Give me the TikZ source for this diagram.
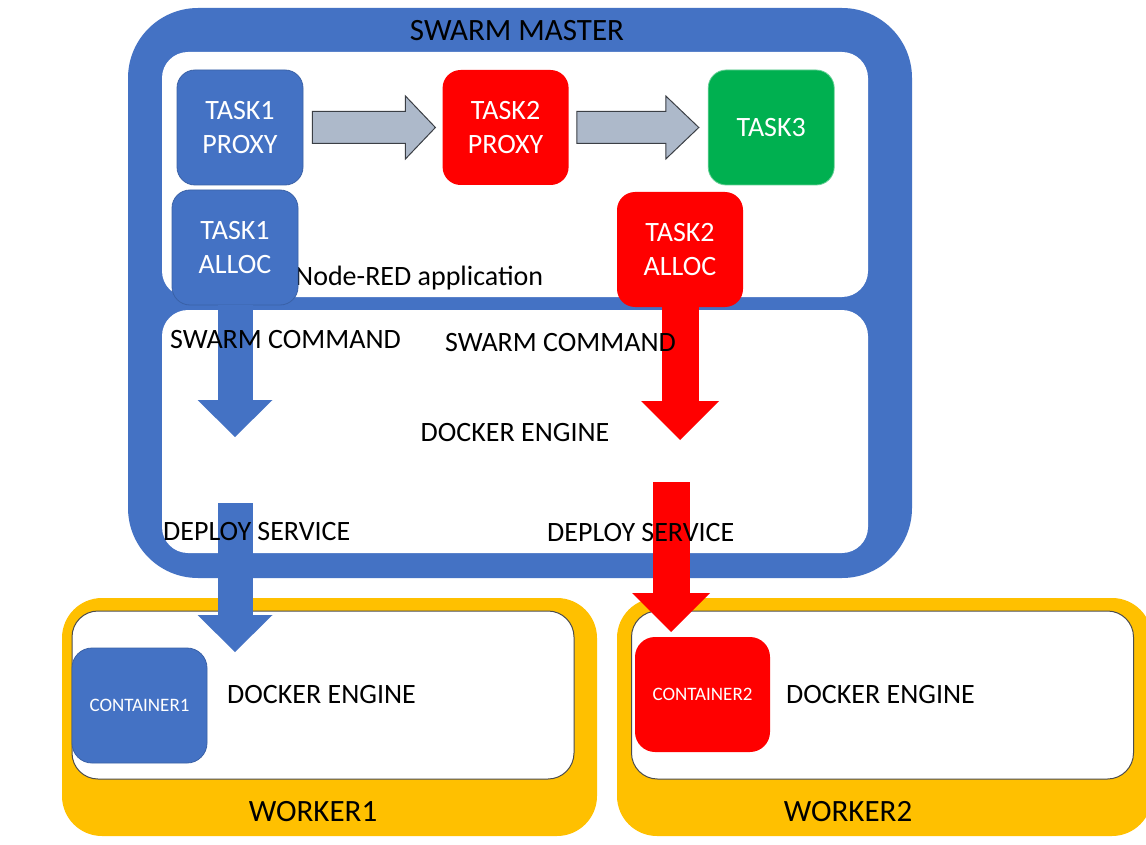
\documentclass[tikz,border=0pt]{standalone}
\usepackage{fontspec}
\setmainfont{Carlito}
\usetikzlibrary{arrows.meta, positioning}
\definecolor{swarmblue}{HTML}{4472C4}
\definecolor{taskred}{HTML}{FF0000}
\definecolor{taskgreen}{HTML}{00B050}
\definecolor{workeryellow}{HTML}{FFC000}
\definecolor{flowgray}{HTML}{ADB9CA}
\definecolor{flowedge}{HTML}{3B3F45}
\tikzset{
  masterbox/.style={rectangle,fill=swarmblue,rounded corners=70pt,minimum width=784pt,minimum height=570pt},
  appbox/.style={rectangle,fill=white,rounded corners=26pt,minimum width=706pt},
  workerbox/.style={rectangle,fill=workeryellow,rounded corners=40pt,minimum width=535pt,minimum height=238pt},
  enginebox/.style={rectangle,fill=white,draw=black!70,line width=1pt,rounded corners=26pt,minimum width=502pt,minimum height=168pt},
  task/.style={rectangle,rounded corners=18pt,minimum width=126pt,minimum height=115pt,align=center,text=white,inner sep=0pt,font=\fontsize{28}{34}\selectfont},
  bluetask/.style={task,fill=swarmblue,draw=swarmblue!85!black,line width=0.8pt},
  redtask/.style={task,fill=taskred},
  greentask/.style={task,fill=taskgreen,draw=taskgreen!60!white,line width=0.8pt},
  container/.style={task,rounded corners=20pt,minimum width=135pt,font=\fontsize{19}{22}\selectfont},
  txt/.style={inner sep=0pt,font=\fontsize{28}{34}\selectfont},
  title/.style={inner sep=0pt,font=\fontsize{31}{36}\selectfont},
  flowarrow/.style={fill=flowgray,draw=flowedge,line width=1pt,line join=miter},
  bluepush/.style={draw=swarmblue,line width=35pt,-{Triangle[width=75pt,length=37pt,line width=0pt]}},
  redpush/.style={draw=taskred,line width=37pt,-{Triangle[width=78pt,length=39pt,line width=0pt]}}
}

\begin{document}
\begin{tikzpicture}[x=1pt,y=-1pt,node distance=139pt]
\useasboundingbox[fill=white] (0,0) rectangle (1146,845);

% swarm master
\node[masterbox] (master) at (520,293) {};
\node[title] (mastertitle) at (517,31) {SWARM MASTER};
\node[appbox,minimum height=245pt] (app) at (515,174.5) {};
\node[appbox,minimum height=243pt] (engine) at (515,431.5) {};
\node[txt,anchor=west] (applabel) at (295,278) {Node-RED application};

% workers
\node[workerbox] (w1) at (329.5,717) {};
\node[workerbox] (w2) at (884.5,717) {};
\node[enginebox] (e1) at (323,695) {};
\node[enginebox] (e2) at (882.5,695) {};
\node[title] (w1title) at (313,812) {WORKER1};
\node[title] (w2title) at (848,812) {WORKER2};

% tasks
\node[bluetask] (t1p) at (240,127.5) {TASK1\\PROXY};
\node[redtask, right=of t1p] (t2p) {TASK2\\PROXY};
\node[greentask, right=of t2p] (t3p) {TASK3};
\node[bluetask] (t1a) at (235,247.5) {TASK1\\ALLOC};
\node[redtask] (t2a) at (680,249.5) {TASK2\\ALLOC};

\draw[flowarrow] ([xshift=9pt]t1p.east) -- ++(0,16) -- ++(93,0) -- ++(0,15.5)
  -- ([xshift=-7pt]t2p.west) -- ++(-30,-31.5) -- ++(0,15.5) -- ++(-93,0) -- cycle;
\draw[flowarrow] ([xshift=8pt]t2p.east) -- ++(0,16) -- ++(89,0) -- ++(0,15.5)
  -- ([xshift=-9pt]t3p.west) -- ++(-33,-31.5) -- ++(0,15.5) -- ++(-89,0) -- cycle;

% containers
\node[bluetask,container] (c1) at (139.5,705.5) {CONTAINER1};
\node[redtask,container] (c2) at (702.5,694.5) {CONTAINER2};

% swarm commands and deploys
\coordinate (cmd1) at (235,437);
\coordinate (cmd2) at (680,440);
\coordinate (dep1a) at (235,503);
\coordinate (dep1b) at (235,652);
\coordinate (dep2a) at (671,482);
\coordinate (dep2b) at (671,632);
\draw[bluepush] (t1a.south) -- (cmd1);
\draw[redpush] (t2a.south) -- (cmd2);
\draw[bluepush] (dep1a) -- (dep1b);
\draw[redpush] (dep2a) -- (dep2b);

\node[txt,anchor=west] (cmdlabel1) at (170,340) {SWARM COMMAND};
\node[txt,anchor=west] (cmdlabel2) at (445,343) {SWARM COMMAND};
\node[txt] (enginelabel) at (515,433) {DOCKER ENGINE};
\node[txt,anchor=west] (deplabel1) at (163,532) {DEPLOY SERVICE};
\node[txt,anchor=west] (deplabel2) at (547,533) {DEPLOY SERVICE};
\node[txt,anchor=west] (e1label) at (227,695) {DOCKER ENGINE};
\node[txt,anchor=west] (e2label) at (786,695) {DOCKER ENGINE};
\end{tikzpicture}
\end{document}
